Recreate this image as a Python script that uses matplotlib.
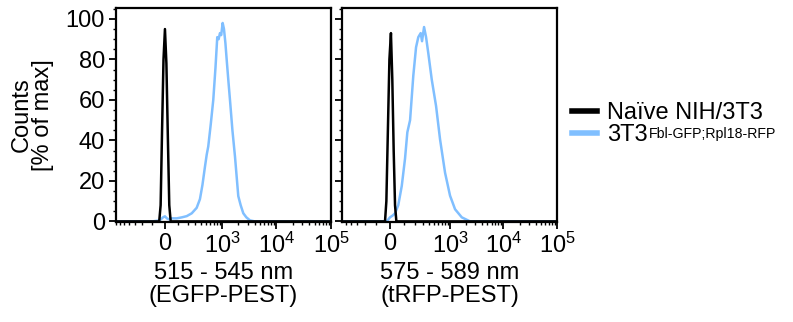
import numpy as np
import matplotlib
matplotlib.use("Agg")
import matplotlib.pyplot as plt
from matplotlib.ticker import FixedLocator, MultipleLocator

plt.rcParams['font.family'] = ['Liberation Sans', 'DejaVu Sans']
plt.rcParams['mathtext.fontset'] = 'custom'
plt.rcParams['mathtext.rm'] = 'Liberation Sans'
plt.rcParams['mathtext.it'] = 'Liberation Sans'
plt.rcParams['mathtext.bf'] = 'Liberation Sans'

# ---------------- data ----------------
series_names = ["Naïve NIH/3T3", "3T3"]
series_superscripts = ["", "Fbl-GFP;Rpl18-RFP"]
series_colors = ["#000000", "#80BFFF"]

panel_xlabels = ["515 - 545 nm\n(EGFP-PEST)", "575 - 589 nm\n(tRFP-PEST)"]

# EGFP panel
egfp_naive_x = [-700, -60, -44, -33, -22, -11, 0, 11, 22, 33, 44, 60, 100000]
egfp_naive_y = [0, 0, 0, 8, 45, 80, 95, 78, 42, 8, 0, 0, 0]
egfp_tg_x = [-700, -100, -40, -15, 0, 15, 30, 50, 93, 140, 190, 250, 320, 374,
             420, 471, 510, 546, 610, 681, 750, 810, 860, 910, 960, 1022, 1081,
             1150, 1213, 1300, 1397, 1550, 1729, 1988, 2200, 2460, 2800, 3262,
             4000, 100000]
egfp_tg_y = [0, 0, 0.5, 2, 2.5, 1.5, 1, 1.5, 1.5, 2, 2.6, 4, 6.7, 11,
             18, 27, 33, 37, 48, 60, 76, 91, 90, 93, 92, 98, 95,
             88, 80, 70, 60, 45, 32, 12.5, 8, 4, 2, 0.5,
             0, 0]

# tRFP panel
trfp_naive_x = [-590, -45, -33, -24, -14, -4, 6, 15, 24, 33, 42, 60, 100000]
trfp_naive_y = [0, 0, 0, 10, 45, 80, 93, 70, 35, 8, 0, 0, 0]
trfp_tg_x = [-590, -40, -22, 0, 19, 33, 44, 55, 80, 105, 124, 148, 179, 208,
             234, 264, 282, 311, 342, 380, 445, 540, 645, 804, 999, 1242,
             1660, 2374, 100000]
trfp_tg_y = [0, 0, 0, 2, 3, 4, 6, 8, 17.5, 31, 44, 50, 72, 86,
             91, 93, 89, 96, 91, 83, 70, 57, 40.5, 24, 12.7, 6,
             2, 0, 0]

panel_c = [180.0, 152.0]           # linear-width parameter of display transform
panel_xmin = [-700, -590]
xmax = 100000

major_ticks = [0, 1e3, 1e4, 1e5]
major_labels = ["0", "$10^3$", "$10^4$", "$10^5$"]
minor_ticks = ([-v for v in range(100, 1000, 100)] + list(range(100, 1000, 100)) +
               list(range(2000, 10000, 1000)) + list(range(20000, 100000, 10000)))

# ---------------- figure ----------------
fig = plt.figure(figsize=(7.93, 3.22), dpi=100)
W, H = 793, 322
axes_px = [(116, 331), (342, 557)]
top_px, bot_px = 8, 222

data = [((egfp_naive_x, egfp_naive_y), (egfp_tg_x, egfp_tg_y)),
        ((trfp_naive_x, trfp_naive_y), (trfp_tg_x, trfp_tg_y))]

lines_for_legend = []
for i in range(2):
    x0, x1 = axes_px[i]
    ax = fig.add_axes([x0 / W, 1 - bot_px / H, (x1 - x0) / W, (bot_px - top_px) / H])
    c = panel_c[i]
    fwd = lambda x, c=c: np.arcsinh(np.asarray(x, float) / c) / np.log(10)
    inv = lambda y, c=c: c * np.sinh(np.asarray(y, float) * np.log(10))
    ax.set_xscale('function', functions=(fwd, inv))
    (nx, ny), (tx, ty) = data[i]
    l2, = ax.plot(tx, ty, color=series_colors[1], lw=1.8, zorder=2)
    l1, = ax.plot(nx, ny, color=series_colors[0], lw=1.8, zorder=3)
    if i == 0:
        lines_for_legend = [l1, l2]
    ax.set_xlim(panel_xmin[i], xmax)
    ax.set_ylim(-0.3, 105.4)
    ax.xaxis.set_major_locator(FixedLocator(major_ticks))
    ax.set_xticklabels(major_labels)
    ax.xaxis.set_minor_locator(FixedLocator(minor_ticks))
    ax.yaxis.set_major_locator(MultipleLocator(20))
    ax.yaxis.set_minor_locator(MultipleLocator(5))
    for s in ax.spines.values():
        s.set_linewidth(1.6)
    ax.tick_params(axis='both', which='major', direction='out', length=5, width=1.3,
                   labelsize=17, pad=3)
    ax.tick_params(axis='both', which='minor', direction='out', length=2.5, width=1.0)
    ax.set_xlabel(panel_xlabels[i], fontsize=17, linespacing=1.05, labelpad=3)
    if i == 0:
        ax.set_ylabel("Counts\n[% of max]", fontsize=17, linespacing=1.0, labelpad=8)
    else:
        ax.set_yticklabels([])

leg = fig.legend(lines_for_legend, series_names, loc='center left',
                 bbox_to_anchor=(572 / W, 1 - 124 / H), frameon=False,
                 fontsize=17, handlelength=1.05, handletextpad=0.45,
                 labelspacing=0.02, borderaxespad=0, borderpad=0)
for ln in leg.get_lines():
    ln.set_linewidth(4)

# superscripts next to legend labels
fig.canvas.draw()
renderer = fig.canvas.get_renderer()
for txt, sup in zip(leg.get_texts(), series_superscripts):
    if not sup:
        continue
    bb = txt.get_window_extent(renderer)
    _, _, descent = renderer.get_text_width_height_descent(
        txt.get_text(), txt.get_fontproperties(), ismath=False)
    baseline = bb.y0 + descent
    fig.text((bb.x1 + 1) / W, (baseline + 8.5) / H, sup, fontsize=10.2,
             ha='left', va='baseline')

fig.savefig("out.png", dpi=100)
